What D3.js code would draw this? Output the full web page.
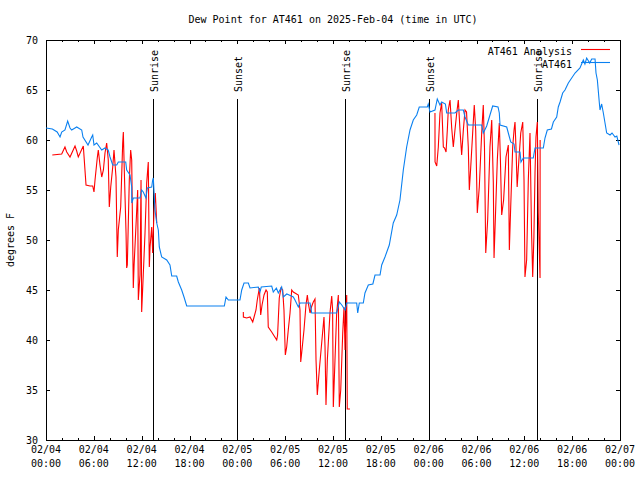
<!DOCTYPE html>
<html><head><meta charset="utf-8">
<script src="https://cdn.jsdelivr.net/npm/d3@7"></script>
<style>
body{margin:0;background:#fff}
svg text{font-family:"DejaVu Sans Mono","Liberation Mono",monospace;font-size:10px;fill:#000}
</style>
</head><body>
<svg id="chart" width="640" height="480"></svg>
<script>
// ---- data (hours since 2025-02-04 00:00 UTC, degrees F) ----
const titleText = "Dew Point for AT461 on 2025-Feb-04 (time in UTC)";
const yLabel = "degrees F";
const yTicks = [30,35,40,45,50,55,60,65,70];
const xTickHours = [0,6,12,18,24,30,36,42,48,54,60,66,72];
const xTickDates = ["02/04","02/04","02/04","02/04","02/05","02/05","02/05","02/05","02/06","02/06","02/06","02/06","02/07"];
const xTickTimes = ["00:00","06:00","12:00","18:00","00:00","06:00","12:00","18:00","00:00","06:00","12:00","18:00","00:00"];
const seriesNames = ["AT461 Analysis","AT461"];

const blueHours = [0,0.8,1.4,1.76,1.97,2.38,2.72,3.01,3.22,3.64,3.85,4.48,4.64,5.27,5.73,5.86,6.02,6.36,6.99,7.4,7.81,8.03,8.37,8.87,9.07,10.0,10.12,10.54,10.75,10.76,10.95,11.79,12.0,12.2,12.54,12.71,13.26,13.38,13.46,13.67,13.89,14.09,14.21,14.51,15.14,15.55,15.77,16.39,16.6,17.02,17.31,17.65,22.37,22.58,22.87,24.33,24.55,24.84,25.38,25.59,26.63,26.84,27.0,28.31,28.51,28.9,29.14,29.56,29.77,30.2,30.5,31.02,31.23,31.65,31.86,33.12,33.33,36.46,36.79,37.1,37.51,37.72,38.97,39.1,39.3,39.8,40.01,40.43,41.0,41.27,41.9,42.11,42.52,43.06,43.56,43.99,44.4,44.82,45.24,45.66,46.07,46.5,46.82,47.83,47.95,48.17,48.79,49.08,49.42,49.63,50.1,50.26,51.3,51.72,52.35,52.56,52.97,54.65,54.85,55.28,55.69,56.03,56.7,56.86,56.95,57.79,57.99,58.29,58.71,58.83,59.46,59.58,59.87,61.12,61.34,62.38,62.59,62.88,63.4,63.64,64.06,64.26,64.48,64.81,65.1,65.52,66.36,66.98,67.4,67.6,67.82,68.2,68.45,68.87,68.99,69.16,69.41,69.49,69.7,69.91,70.12,70.33,70.75,71.0,71.38,71.6,71.88];
const blueValues = [61.2,61.1,60.8,60.3,60.8,61.0,61.9,61.2,61.0,61.2,61.3,61.0,60.3,59.5,60.3,60.5,59.5,59.7,59.0,59.2,59.0,58.3,57.5,57.5,57.8,57.8,57.0,56.5,55.3,53.7,54.2,54.2,55.0,54.8,54.2,55.2,55.3,56.0,56.2,53.0,51.7,51.0,49.3,48.3,48.0,47.5,46.4,46.4,45.8,45.0,44.3,43.4,43.4,44.3,44.0,44.0,45.0,45.7,45.7,45.2,45.3,44.8,45.3,45.4,44.8,45.2,44.7,45.3,44.3,44.6,44.5,44.3,44.0,43.3,43.7,43.7,42.7,42.7,43.8,43.5,43.0,43.7,43.7,42.7,43.7,43.7,44.7,45.5,45.6,46.5,46.5,47.5,48.3,49.5,51.7,52.5,54.0,57.0,59.3,61.0,62.0,62.5,63.3,63.3,63.6,62.8,63.0,64.1,63.5,63.8,63.6,62.7,62.7,63.0,63.0,62.3,61.5,61.5,60.7,61.4,62.5,63.4,63.3,62.7,61.5,61.3,60.7,59.8,59.6,58.8,58.8,57.8,58.2,58.2,59.2,59.2,60.2,61.0,61.1,61.8,62.3,63.3,63.8,64.7,65.0,65.7,66.7,67.2,68.0,67.6,68.2,67.7,68.1,68.1,66.7,66.0,63.7,63.0,63.6,62.7,61.7,60.7,60.5,60.7,60.3,60.4,59.5];

const redHours = [0.79,1.97,2.38,2.6,3.01,3.64,3.85,4.05,4.68,5.02,5.52,5.86,6.02,6.15,6.43,6.56,6.77,6.99,7.2,7.4,7.61,7.81,7.94,8.12,8.37,8.53,8.78,8.94,9.07,9.37,9.62,9.7,9.82,10.04,10.12,10.2,10.45,10.62,10.75,10.95,11.05,11.38,11.5,11.58,11.79,11.92,12.0,12.2,12.42,12.63,12.83,12.96,13.05,13.26,13.38,13.55,13.71,13.89,
  null,
  24.75,24.76,25.17,25.59,25.93,26.1,26.34,26.5,26.76,26.93,27.1,27.35,27.6,27.76,27.88,28.31,28.94,29.05,29.26,29.48,29.69,29.85,30.02,30.19,30.39,30.61,30.82,31.02,31.65,31.86,31.95,32.07,32.36,32.61,32.78,32.9,33.12,33.3,33.53,33.74,33.87,34.03,34.28,34.58,34.87,35.0,35.12,35.29,35.62,35.84,35.95,36.04,36.25,36.46,36.67,36.79,36.97,37.22,37.38,37.51,37.63,37.72,37.79,38.13,
  null,
  48.79,48.8,49.01,49.21,49.42,49.63,49.84,50.0,50.18,50.34,50.46,50.68,50.89,51.09,51.3,51.52,51.72,51.93,52.14,52.35,52.56,52.75,52.97,53.1,53.27,53.52,53.72,53.9,54.1,54.35,54.65,54.85,55.0,55.16,55.4,55.69,55.91,56.11,56.2,56.36,56.61,56.86,57.0,57.16,57.4,57.7,57.99,58.12,58.29,58.54,58.71,58.83,58.95,59.1,59.3,59.55,59.8,59.96,60.08,60.29,60.5,60.71,60.9,61.05,61.2,61.34,61.46,61.63,61.75,61.97,61.98];
const redValues = [58.5,58.6,59.3,58.8,58.3,59.4,58.9,58.3,59.4,55.5,55.4,55.4,54.8,56.0,58.2,59.0,57.5,56.3,57.0,58.7,59.7,58.0,53.3,55.3,57.3,59.0,56.3,48.3,51.0,53.3,59.7,60.8,57.0,50.7,47.2,47.5,56.0,59.0,58.0,45.2,47.5,53.0,55.0,44.0,46.5,56.0,42.8,46.5,50.7,55.7,57.8,47.3,49.3,51.3,48.7,53.0,54.7,51.7,
  null,
  42.8,42.3,42.2,42.3,41.8,42.3,43.0,44.0,45.2,42.5,43.5,44.5,45.0,44.8,41.3,40.8,40.0,40.5,44.2,45.2,45.0,43.0,38.5,39.3,41.0,42.7,45.0,44.8,44.5,43.0,37.8,38.7,41.0,43.5,44.5,43.7,42.7,43.3,43.8,44.1,38.0,34.5,37.0,39.7,42.3,39.3,33.5,38.0,42.7,44.4,43.0,33.3,38.0,42.7,44.5,33.3,35.0,40.7,43.3,39.0,42.7,44.5,33.1,33.1,
  null,
  62.7,57.8,57.4,59.3,62.7,63.7,59.3,59.2,58.8,61.0,63.0,64.0,61.2,59.3,61.0,62.7,64.0,61.0,58.5,61.0,63.0,62.8,59.3,55.0,57.2,60.7,63.5,61.0,52.7,55.3,60.7,63.5,59.3,48.7,52.0,59.3,62.0,55.7,48.2,52.0,58.0,61.7,58.0,52.5,54.0,58.3,59.5,49.0,53.3,59.3,61.0,61.8,59.3,55.3,57.8,60.7,61.8,56.0,46.3,48.0,56.0,60.7,51.0,46.3,50.3,56.7,60.3,61.8,52.7,46.2,60.0];

const eventHours = [13.45,24.0,37.5,48.05,61.55];
const eventLabels = ["Sunrise","Sunset","Sunrise","Sunset","Sunrise"];

// ---- drawing ----
const start = Date.UTC(2025,1,4,0,0,0);
const toDate = h => new Date(start + h*3600e3);
const L=46,R=620,T=40,B=440;
const svg = d3.select("#chart");
const x = d3.scaleUtc().domain([toDate(0),toDate(72)]).range([L,R]);
const y = d3.scaleLinear().domain([30,70]).range([B,T]);
const red = "#ff0000", blue = "#0a80f0";

const majorDates = xTickHours.map(toDate);
const minorDates = d3.range(0,73,2).filter(h=>h%6!==0).map(toDate);

function styleAxis(g){ g.select(".domain").remove(); g.selectAll("line").attr("stroke","#000").attr("shape-rendering","crispEdges"); }

// bottom major + minor
svg.append("g").attr("transform",`translate(0,${B})`)
  .call(d3.axisBottom(x).tickValues(majorDates).tickSize(-4).tickSizeOuter(0).tickFormat(""))
  .call(styleAxis);
svg.append("g").attr("transform",`translate(0,${B})`)
  .call(d3.axisBottom(x).tickValues(minorDates).tickSize(-2).tickSizeOuter(0).tickFormat(""))
  .call(styleAxis);
// top mirror
svg.append("g").attr("transform",`translate(0,${T})`)
  .call(d3.axisTop(x).tickValues(majorDates).tickSize(-4).tickSizeOuter(0).tickFormat(""))
  .call(styleAxis);
svg.append("g").attr("transform",`translate(0,${T})`)
  .call(d3.axisTop(x).tickValues(minorDates).tickSize(-2).tickSizeOuter(0).tickFormat(""))
  .call(styleAxis);
// left / right
const gl = svg.append("g").attr("transform",`translate(${L},0)`)
  .call(d3.axisLeft(y).tickValues(yTicks).tickSize(-4).tickSizeOuter(0).tickPadding(8))
  .call(styleAxis);
gl.attr("font-family",null).attr("font-size",null);
gl.selectAll("text").attr("fill","#000");
svg.append("g").attr("transform",`translate(${R},0)`)
  .call(d3.axisRight(y).tickValues(yTicks).tickSize(-4).tickSizeOuter(0).tickFormat(""))
  .call(styleAxis);

// x tick labels (two lines)
const xl = svg.append("g").selectAll("text").data(xTickHours).join("text")
  .attr("text-anchor","middle")
  .attr("x",h=>x(toDate(h)));
xl.append("tspan").attr("x",h=>x(toDate(h))).attr("y",453).text((h,i)=>xTickDates[i]);
xl.append("tspan").attr("x",h=>x(toDate(h))).attr("y",467).text((h,i)=>xTickTimes[i]);

// frame
svg.append("rect").attr("x",L+0.5).attr("y",T+0.5).attr("width",R-L).attr("height",B-T)
  .attr("fill","none").attr("stroke","#000").attr("shape-rendering","crispEdges");

// event lines
const ev = svg.append("g");
eventHours.forEach((h,i)=>{
  const xp = Math.round(x(toDate(h)))+0.5;
  ev.append("line").attr("x1",xp).attr("x2",xp).attr("y1",99).attr("y2",B)
    .attr("stroke","#000").attr("stroke-width",1).attr("shape-rendering","crispEdges");
  ev.append("text").attr("transform",`translate(${xp+4.5},92) rotate(-90)`)
    .attr("text-anchor","start").text(eventLabels[i]);
});

// series
const redData = redHours.map((h,i)=>({h, v: redValues[i]}));
const blueData = blueHours.map((h,i)=>({h, v: blueValues[i]}));
const line = d3.line().defined(d=>d.h!=null && d.v!=null)
  .x(d=>x(toDate(d.h))).y(d=>y(d.v));
svg.append("path").datum(redData).attr("d",line).attr("fill","none").attr("stroke",red).attr("stroke-width",1.1);
svg.append("path").datum(blueData).attr("d",line).attr("fill","none").attr("stroke",blue).attr("stroke-width",1.1);

// legend
const lg = svg.append("g");
[red,blue].forEach((c,i)=>{
  const ly = 49.5 + i*13;
  lg.append("text").attr("x",572).attr("y",ly+5).attr("text-anchor","end").text(seriesNames[i]);
  lg.append("line").attr("x1",581).attr("x2",610).attr("y1",ly).attr("y2",ly).attr("stroke",c).attr("stroke-width",1.1);
});

// title & y label
svg.append("text").attr("x",333).attr("y",23).attr("text-anchor","middle").text(titleText);
svg.append("text").attr("transform","translate(14,240) rotate(-90)").attr("text-anchor","middle").text(yLabel);
</script>
</body></html>
